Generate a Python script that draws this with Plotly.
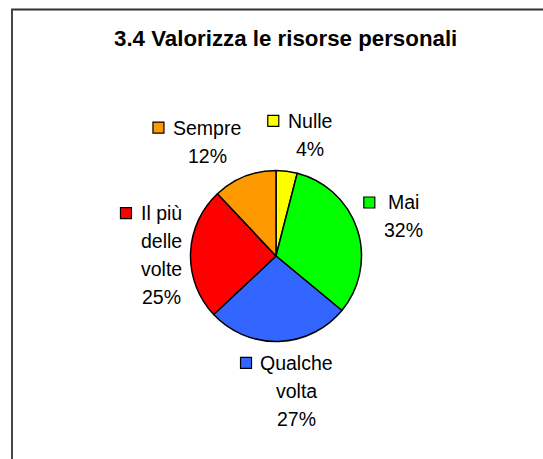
import math
import plotly.graph_objects as go

# ---- data ----
categories = ["Nulle", "Mai", "Qualche volta", "Il più delle volte", "Sempre"]
values = [4, 32, 27, 25, 12]
label_lines = [["Nulle"], ["Mai"], ["Qualche", "volta"], ["Il più", "delle", "volte"], ["Sempre"]]
colors = ["#FFFF00", "#00FF00", "#3366FF", "#FF0000", "#FF9900"]
title_text = "3.4 Valorizza le risorse personali"

# ---- layout constants (pixels) ----
W, H = 543, 459
CX, CY, R = 276, 256, 85.5
LABEL_R = 122
nudges = [(18.7, 0), (11.5, -1.8), (17, 13), (7, 3), (-24, -1)]
square_gap = [9, 13, 9, 9, 9]
LINE = 28
FS = 19.5
FONT = "Liberation Sans, Arial, sans-serif"

# Arial advance widths (em) for label glyph measurement
AW = {"S": .667, "e": .556, "m": .833, "p": .556, "r": .333, "N": .722, "u": .556,
      "l": .222, "M": .833, "a": .556, "i": .222, "Q": .778, "c": .5, "h": .556,
      "I": .278, "ù": .556, " ": .278}


def px(x):
    return x / W


def py(y):
    return 1 - y / H


fig = go.Figure()
fig.add_trace(go.Pie(
    values=values, labels=categories, sort=False, direction="clockwise", rotation=0,
    marker=dict(colors=colors, line=dict(color="black", width=1.5)),
    textinfo="none", hoverinfo="label+percent", showlegend=False,
    domain=dict(x=[px(CX - R), px(CX + R)], y=[py(CY + R), py(CY - R)]),
))

total = sum(values)
annotations = []
shapes = []
cum = 0
for i, v in enumerate(values):
    theta = math.radians(360 * (cum + v / 2) / total)
    cum += v
    bx = CX + LABEL_R * math.sin(theta) + nudges[i][0]
    by = CY - LABEL_R * math.cos(theta) + nudges[i][1]
    pct = f"{round(100 * v / total)}%"
    lines = label_lines[i] + [pct]
    n = len(lines)
    y0 = by - (n - 1) * LINE / 2
    for k, t in enumerate(lines):
        annotations.append(dict(
            x=px(bx), y=py(y0 + k * LINE), xref="paper", yref="paper",
            text=t, showarrow=False, xanchor="center", yanchor="middle",
            font=dict(family=FONT, size=FS, color="black"),
        ))
    w = sum(AW.get(c, .556) for c in lines[0]) * FS
    sr = bx - w / 2 - square_gap[i]
    shapes.append(dict(
        type="rect", xref="paper", yref="paper",
        x0=px(sr - 11), x1=px(sr), y0=py(y0 + 5.5), y1=py(y0 - 5.5),
        fillcolor=colors[i], line=dict(color="black", width=1.2),
    ))

# chart frame (top and left edges visible)
shapes.append(dict(type="rect", xref="paper", yref="paper",
                   x0=px(12), x1=1.2, y0=-0.2, y1=py(9.5),
                   line=dict(color="#333333", width=1.8), fillcolor="rgba(0,0,0,0)"))

annotations.append(dict(
    x=px(285.5), y=py(38), xref="paper", yref="paper", text=f"<b>{title_text}</b>",
    showarrow=False, xanchor="center", yanchor="middle",
    font=dict(family=FONT, size=22.3, color="black"),
))

fig.update_layout(
    width=W, height=H, margin=dict(l=0, r=0, t=0, b=0),
    paper_bgcolor="white", plot_bgcolor="white",
    annotations=annotations, shapes=shapes,
)

fig.write_html(
    "out.html",
    config={"displayModeBar": False},
    post_script="document.body.style.margin='0';document.body.style.overflow='hidden';",
)
